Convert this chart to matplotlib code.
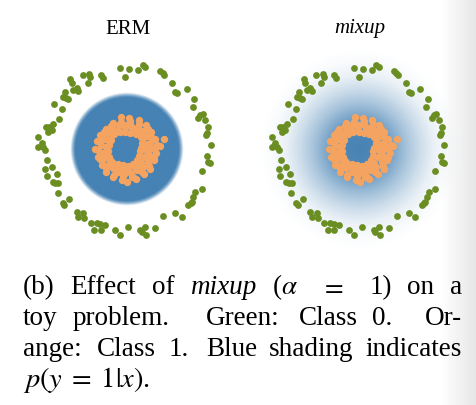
import numpy as np
import matplotlib
matplotlib.use("Agg")
import matplotlib.pyplot as plt
from matplotlib.colors import to_rgb

plt.rcParams['font.family'] = ['Liberation Serif', 'DejaVu Serif']
plt.rcParams['mathtext.fontset'] = 'stix'

# class 0 (green) points
green_x = [-0.20, 0.08, 0.35, 0.48, 0.55, 1.00, 1.08, 1.12, -0.05, -1.32, -1.12, -1.10,
           -0.78, -0.72, -1.17, -1.70, -1.65, -1.60, -1.50, -1.45, -1.85, -1.90, -1.82,
           -1.75, -2.17, -1.93, -2.02, -2.20, -2.42, -2.35, -2.32, -2.25, -2.65, -2.55,
           -2.50, -2.65, -2.45, -2.38, -2.45, -2.23, -2.40, -2.10, -2.22, -2.15, -2.05,
           -2.07, -1.92, -1.88, -1.72, -1.50, -1.30, -1.45, -1.28, -1.08, -0.90, -0.80,
           -0.65, -0.98, -0.78, -0.35, -0.20, 0.05, 0.40, 0.45, 0.55, 0.58, 0.85, 1.10,
           1.45, 1.65, 1.85, 1.92, 1.95, 2.00, 2.05, 2.25, 2.25, 2.42, 2.45, 2.50, 2.52,
           2.38, 2.42, 2.45, 2.35, 2.15, 2.20, 2.28, 1.98, 2.03, 1.80, 1.45, 1.52, 1.36]
green_y = [2.42, 2.39, 2.37, 2.52, 2.47, 2.35, 2.27, 2.22, 2.15, 2.22, 2.25, 2.17,
           2.22, 2.12, 1.99, 2.09, 1.97, 1.77, 1.82, 1.75, 1.72, 1.57, 1.52,
           1.49, 1.35, 1.20, 0.89, 0.75, 0.65, 0.52, 0.65, 0.57, 0.35, 0.17,
           0.07, 0.05, -0.03, -0.33, -0.60, -0.53, -0.81, -0.75, -0.98, -1.03, -1.03,
           -1.31, -1.63, -1.68, -1.51, -1.88, -1.91, -2.03, -2.08, -2.23, -2.23, -2.25,
           -2.28, -2.43, -2.43, -2.43, -2.58, -2.33, -2.43, -2.48, -2.33, -2.58, -2.38, -2.01,
           -1.93, -2.03, -1.68, -1.63, -1.58, -1.43, -1.28, -1.21, -0.65, -0.21, -0.38, -0.43, 0.12,
           0.42, 0.49, 0.67, 0.87, 0.92, 1.02, 1.05, 1.27, 1.49, 1.79, 1.72, 1.67, 1.99]

# class 1 (orange) points, angle (deg) and radius
orange_deg = [5, 22, 41, 58, 77, 95, 113, 131, 150, 167, 186, 204, 221, 240, 258, 276, 295, 313, 332, 350,
              0, 14, 31, 47, 62, 79, 93, 108, 124, 141, 157, 172, 189, 203, 219, 234, 250, 266, 281, 297,
              312, 328, 343,
              8, 20, 35, 52, 68, 85, 100, 118, 136, 152, 165, 180, 196, 212, 228, 245, 262, 270, 287, 305,
              320, 337, 352,
              3, 23, 43, 63, 83, 103, 123, 143, 163, 183, 203, 223, 243, 263, 283, 303, 323, 343,
              15, 35, 55, 75, 95, 115, 135, 155, 175, 195, 215, 235, 255, 275, 295, 315, 335, 355,
              10, 70, 130, 190, 250, 310, 45, 160, 280, 200, 15, 6]
orange_rad = [0.42, 0.50, 0.55, 0.52, 0.50, 0.52, 0.55, 0.58, 0.56, 0.55, 0.55, 0.57, 0.58, 0.52, 0.50,
              0.50, 0.48, 0.45, 0.42, 0.40,
              0.70, 0.72, 0.75, 0.72, 0.74, 0.70, 0.73, 0.76, 0.72, 0.75, 0.74, 0.78, 0.73, 0.76, 0.74,
              0.72, 0.75, 0.72, 0.74, 0.70, 0.72, 0.75, 0.72,
              0.92, 0.90, 0.88, 0.92, 0.95, 0.93, 0.96, 0.90, 0.88, 0.90, 0.93, 0.95, 0.90, 0.88, 0.92,
              0.94, 0.95, 1.00, 0.93, 0.90, 0.92, 0.88, 0.90,
              0.84, 0.82, 0.86, 0.83, 0.85, 0.82, 0.84, 0.86, 0.83, 0.85, 0.82, 0.84, 0.86, 0.83, 0.85,
              0.82, 0.84, 0.86,
              0.62, 0.64, 0.60, 0.63, 0.65, 0.61, 0.64, 0.62, 0.63, 0.65, 0.60, 0.62, 0.64, 0.61, 0.58,
              0.60, 0.57, 0.60,
              0.58, 0.62, 0.66, 0.64, 0.62, 0.60, 0.85, 0.82, 0.85, 0.85, 1.15, 1.00]

# p(y=1|x) against distance from the centre
erm_r = [0.0, 1.56, 1.63, 1.70, 4.0]
erm_p = [1.0, 1.0, 0.6, 0.0, 0.0]
mix_r = [0.0, 0.6, 1.0, 1.4, 1.8, 2.2, 2.6, 3.0, 4.0]
mix_p = [1.0, 0.95, 0.72, 0.48, 0.28, 0.12, 0.04, 0.0, 0.0]

titles = ["ERM", "mixup"]
title_style = ["normal", "italic"]

W, H = 476, 405
SERIF = ['Liberation Serif', 'DejaVu Serif']
fig = plt.figure(figsize=(W / 100, H / 100), dpi=100)

# faint page shadow on the right edge
bg = fig.add_axes([0, 0, 1, 1], zorder=-10)
shade = np.interp(np.arange(W), [0, 440, W], [1.0, 1.0, 0.9])
bg.imshow(shade[None, :], cmap='gray', vmin=0, vmax=1, aspect='auto', extent=[0, 1, 0, 1])
bg.axis('off')

ox = np.array(orange_rad) * np.cos(np.radians(orange_deg))
oy = np.array(orange_rad) * np.sin(np.radians(orange_deg))

lim = 3.3
g = np.linspace(-lim, lim, 400)
XX, YY = np.meshgrid(g, g)
RR = np.hypot(XX, YY)
blue = to_rgb('steelblue')

lefts = [16.7 / W, 250.3 / W]
for k, (rr, pp) in enumerate([(erm_r, erm_p), (mix_r, mix_p)]):
    ax = fig.add_axes([lefts[k], (H - 259) / H, 220 / W, 220 / H])
    rgba = np.zeros(RR.shape + (4,))
    rgba[..., :3] = blue
    rgba[..., 3] = np.interp(RR, rr, pp)
    ax.imshow(rgba, extent=[-lim, lim, -lim, lim], origin='lower', interpolation='bilinear')
    ax.scatter(green_x, green_y, s=24, color='olivedrab', linewidths=0)
    ax.scatter(ox, oy, s=28, color='sandybrown', linewidths=0)
    ax.set_xlim(-lim, lim)
    ax.set_ylim(-lim, lim)
    ax.axis('off')

fig.text(127.5 / W, 1 - 33.5 / H, titles[0], ha='center', va='baseline', fontsize=15,
         fontstyle=title_style[0], family=SERIF)
fig.text(360 / W, 1 - 33.5 / H, titles[1], ha='center', va='baseline', fontsize=15,
         fontstyle=title_style[1], family=SERIF)

# caption, justified like the paper
lines = [
    ([("(b)", 'normal'), ("Effect", 'normal'), ("of", 'normal'), ("mixup", 'italic'),
      (r"($\alpha$", 'normal'), (r"$=$", 'normal'), ("1)", 'normal'), ("on", 'normal'), ("a", 'normal')],
     [1, 1, 1, 1, 1.5, 1.6, 1, 1], 294),
    ([("toy", 'normal'), ("problem.", 'normal'), ("Green:", 'normal'), ("Class", 'normal'),
      ("0.", 'normal'), ("Or-", 'normal')],
     [1, 2.3, 1.3, 0.9, 2.1], 325),
    ([("ange:", 'normal'), ("Class", 'normal'), ("1.", 'normal'), ("Blue", 'normal'),
      ("shading", 'normal'), ("indicates", 'normal')],
     [1.3, 1, 1.5, 1, 1], 356),
]
x0, x1 = 23, 462
fig.canvas.draw()
rend = fig.canvas.get_renderer()
for words, weights, base in lines:
    txts = [fig.text(0, 1 - base / H, w, fontsize=19.5, fontstyle=st, va='baseline', family=SERIF)
            for w, st in words]
    widths = [t.get_window_extent(rend).width for t in txts]
    unit = (x1 - x0 - sum(widths)) / sum(weights)
    x = x0
    for i, t in enumerate(txts):
        t.set_x(x / W)
        if i < len(weights):
            x += widths[i] + unit * weights[i]
fig.text(x0 / W, 1 - 387 / H, r"$p(y\;=\;1|x)$.", fontsize=20.5, va='baseline', family=SERIF)

fig.savefig("out.png", dpi=100)
